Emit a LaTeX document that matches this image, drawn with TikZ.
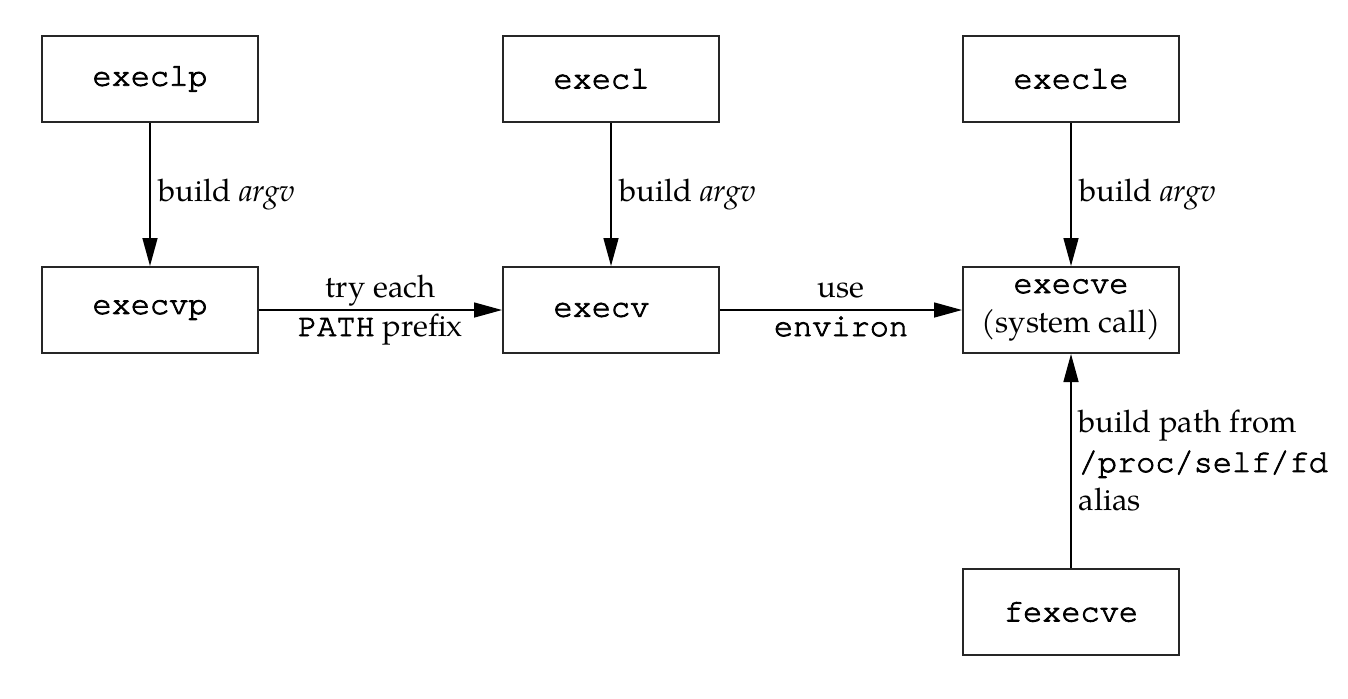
\documentclass[tikz,border=0pt]{standalone}
\usepackage{fontspec}
\setmainfont{TeX Gyre Pagella}
\setmonofont{TeX Gyre Cursor}[FakeBold=2.5,Scale=1.03]
\usetikzlibrary{arrows.meta}
\begin{document}
\begin{tikzpicture}[x=0.5pt,y=-0.5pt,
  txt/.style={font=\fontsize{15.5}{19.5}\selectfont},
  box/.style={txt, draw=black!85, line width=1pt, minimum width=108pt, minimum height=43pt, inner sep=0pt, align=center},
  conn/.style={line width=0.75pt, -{Triangle[length=14pt,width=7.5pt]}},
  lbl/.style={txt, align=left, inner sep=0pt}
]
\useasboundingbox (0,0) rectangle (1348,698);
\node[box] (execlp) at (150,79) {\ttfamily execlp};
\node[box] (execl) at (611,79) {\ttfamily execl\hphantom{l}};
\node[box] (execle) at (1071,79) {\ttfamily execle};
\node[box] (execvp) at (150,310) {\ttfamily execvp};
\node[box] (execv) at (611,310) {\ttfamily execv\hphantom{l}};
\node[box] (execve) at (1071,310) {{\ttfamily execve}\\(system call)};
\node[box] (fexecve) at (1071,612) {\ttfamily fexecve};

\draw[conn] (execlp) -- node[lbl, anchor=west, xshift=4pt] {build \textit{argv}} (execvp);
\draw[conn] (execl) -- node[lbl, anchor=west, xshift=4pt] {build \textit{argv}} (execv);
\draw[conn] (execle) -- node[lbl, anchor=west, xshift=4pt] {build \textit{argv}} (execve);
\draw[conn] (execvp) -- node[lbl, anchor=base, yshift=6.5pt] {try each}
                        node[lbl, anchor=base, yshift=-13pt] {{\ttfamily PATH} prefix} (execv);
\draw[conn] (execv) -- node[lbl, anchor=base, yshift=6.5pt] {use}
                       node[lbl, anchor=base, yshift=-13pt] {\ttfamily environ} (execve);
\draw[conn] (fexecve) -- node[lbl, anchor=west, xshift=3.5pt] {build path from\\{\ttfamily /proc/self/fd}\\alias} (execve);
\end{tikzpicture}
\end{document}
